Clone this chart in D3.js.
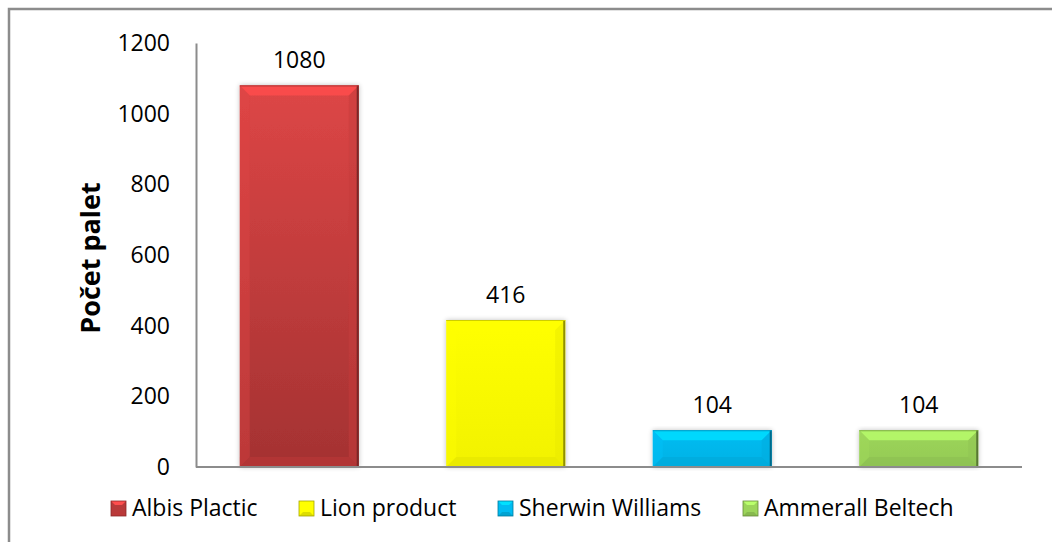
<!DOCTYPE html>
<html>
<head>
<meta charset="utf-8">
<script src="https://cdn.jsdelivr.net/npm/d3@7"></script>
<style>
  body { margin: 0; background: #fff; }
  svg { display: block; font-family: "Open Sans", sans-serif; }
</style>
</head>
<body>
<svg id="chart" width="1052" height="542"></svg>
<script>
const categories = ['Albis Plactic', 'Lion product', 'Sherwin Williams', 'Ammerall Beltech'];
const values = [1080, 416, 104, 104];
const yTicks = [0, 200, 400, 600, 800, 1000, 1200];
const barColors = ['#d84141', '#ffff00', '#00bcf2', '#9cd55a'];

const svg = d3.select('#chart');
const plotLeft = 196, plotRight = 1022, plotTop = 43, plotBottom = 467;

// outer frame (only left and top visible)
svg.append('path')
  .attr('d', 'M9,560 L9,9 L1060,9')
  .attr('fill', 'none')
  .attr('stroke', '#8c8c8c')
  .attr('stroke-width', 2.5);

const x = d3.scaleBand()
  .domain(categories)
  .range([plotLeft, plotRight])
  .paddingInner(0.424)
  .paddingOuter(0.212);

const y = d3.scaleLinear()
  .domain([0, 1200])
  .range([plotBottom, plotTop]);

const defs = svg.append('defs');
const shadow = defs.append('filter').attr('id', 'shadow')
  .attr('x', -0.1).attr('y', -0.1).attr('width', 1.2).attr('height', 1.2);
shadow.append('feGaussianBlur').attr('in', 'SourceAlpha').attr('stdDeviation', 2.5);
shadow.append('feComponentTransfer').append('feFuncA').attr('type', 'linear').attr('slope', 0.25);
const merge = shadow.append('feMerge');
merge.append('feMergeNode');
merge.append('feMergeNode').attr('in', 'SourceGraphic');

barColors.forEach((c, i) => {
  const g = defs.append('linearGradient').attr('id', 'grad' + i)
    .attr('x1', 0).attr('y1', 0).attr('x2', 0).attr('y2', 1);
  const base = d3.color(c);
  g.append('stop').attr('offset', '0%').attr('stop-color', i === 0 ? '#dd4646' : base.formatHex());
  g.append('stop').attr('offset', '100%').attr('stop-color', i === 0 ? '#a43232' : base.darker(0.15).formatHex());
});

// y axis
const yAxis = svg.append('g')
  .attr('transform', `translate(${plotLeft},0)`)
  .call(d3.axisLeft(y).tickValues(yTicks).tickFormat(d3.format('d')).tickSize(0).tickPadding(26));
yAxis.select('.domain').attr('stroke', '#8c8c8c').attr('stroke-width', 2);
yAxis.selectAll('text')
  .attr('font-family', '"Open Sans", sans-serif')
  .attr('font-size', 23)
  .attr('fill', '#000');

// bars with bevel
const bev = 10;
const bars = svg.append('g').selectAll('g').data(values).join('g')
  .attr('filter', 'url(#shadow)');

bars.each(function(v, i) {
  const g = d3.select(this);
  const x0 = x(categories[i]), w = x.bandwidth();
  const y0 = y(v), h = y(0) - y(v);
  const x1 = x0 + w, y1 = y0 + h;
  const base = d3.color(barColors[i]);
  const b = Math.min(bev, h / 2);
  g.append('rect').attr('x', x0).attr('y', y0).attr('width', w).attr('height', h)
    .attr('fill', `url(#grad${i})`);
  // top bevel
  g.append('path')
    .attr('d', `M${x0},${y0} L${x1},${y0} L${x1 - b},${y0 + b} L${x0 + b},${y0 + b} Z`)
    .attr('fill', base.brighter(0.45).formatHex()).attr('opacity', 0.85);
  // left bevel
  g.append('path')
    .attr('d', `M${x0},${y0} L${x0 + b},${y0 + b} L${x0 + b},${y1 - b} L${x0},${y1} Z`)
    .attr('fill', base.brighter(0.1).formatHex()).attr('opacity', 0.4);
  // right bevel
  g.append('path')
    .attr('d', `M${x1},${y0} L${x1},${y1} L${x1 - b},${y1 - b} L${x1 - b},${y0 + b} Z`)
    .attr('fill', base.darker(0.25).formatHex()).attr('opacity', 0.5);
  // bottom bevel
  g.append('path')
    .attr('d', `M${x0},${y1} L${x1},${y1} L${x1 - b},${y1 - b} L${x0 + b},${y1 - b} Z`)
    .attr('fill', base.darker(0.35).formatHex()).attr('opacity', 0.5);
  // dark right edge
  g.append('line').attr('x1', x1 - 1).attr('x2', x1 - 1).attr('y1', y0).attr('y2', y1)
    .attr('stroke', base.darker(1.6).formatHex()).attr('stroke-width', 2);
  g.append('line').attr('x1', x0).attr('x2', x1).attr('y1', y0 + 0.5).attr('y2', y0 + 0.5)
    .attr('stroke', base.darker(0.6).formatHex()).attr('stroke-width', 1);
});

// baseline
svg.append('line')
  .attr('x1', plotLeft).attr('x2', plotRight)
  .attr('y1', y(0)).attr('y2', y(0))
  .attr('stroke', '#8c8c8c').attr('stroke-width', 2);

// data labels
svg.append('g').selectAll('text').data(values).join('text')
  .attr('x', (d, i) => x(categories[i]) + x.bandwidth() / 2)
  .attr('y', d => y(d) - 17)
  .attr('text-anchor', 'middle')
  .attr('font-size', 23)
  .attr('fill', '#000')
  .text(d => d);

// y axis title
svg.append('text')
  .attr('transform', 'translate(100,258) rotate(-90)')
  .attr('text-anchor', 'middle')
  .attr('font-size', 27)
  .attr('font-weight', 'bold')
  .attr('fill', '#000')
  .text('Počet palet');

// legend
const legendX = [111, 299, 498, 743];
const leg = svg.append('g').selectAll('g').data(categories).join('g')
  .attr('transform', (d, i) => `translate(${legendX[i]},501)`);
leg.each(function(d, i) {
  const g = d3.select(this);
  const base = d3.color(barColors[i]);
  const s = 15, b = 4;
  g.append('rect').attr('width', s).attr('height', s).attr('fill', i === 0 ? '#b83a3a' : base.formatHex());
  g.append('path').attr('d', `M0,0 L${s},0 L${s - b},${b} L${b},${b} Z`)
    .attr('fill', base.brighter(0.5).formatHex());
  g.append('path').attr('d', `M0,${s} L${s},${s} L${s - b},${s - b} L${b},${s - b} Z`)
    .attr('fill', base.darker(0.4).formatHex());
  g.append('rect').attr('width', s).attr('height', s).attr('fill', 'none')
    .attr('stroke', base.darker(1.2).formatHex()).attr('stroke-width', 0.8);
});
leg.append('text')
  .attr('x', 21).attr('y', 15)
  .attr('font-size', 23)
  .attr('fill', '#000')
  .text(d => d);
</script>
</body>
</html>
